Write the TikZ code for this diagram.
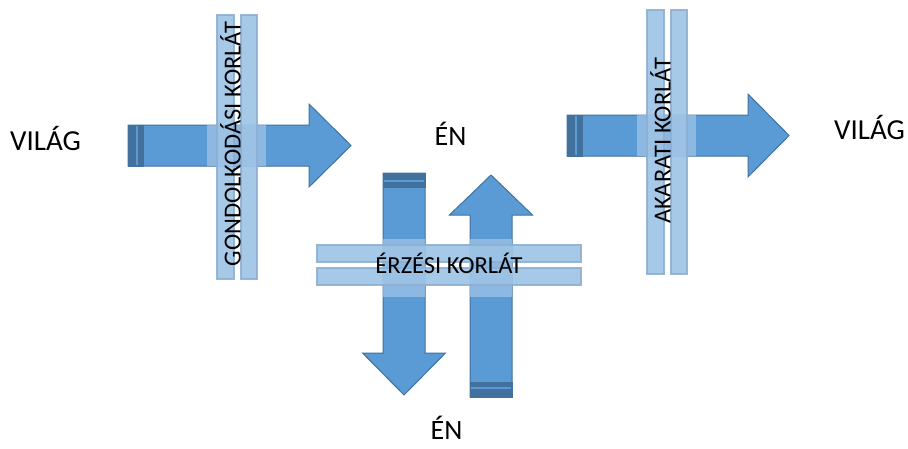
\documentclass[tikz,border=0pt]{standalone}
\usepackage{fontspec}
\setmainfont{Carlito}
\usepackage{tikz}
\definecolor{nyilkek}{HTML}{5B9BD5}
\definecolor{nyilvonal}{HTML}{41719C}
\definecolor{sotet}{HTML}{41719C}
\definecolor{sav}{HTML}{9DC3E6}
\definecolor{savvonal}{HTML}{8EAFD2}
\tikzset{
	felirat/.style={inner sep=0pt,text height=.63em,text depth=0pt},
	korlat/.style={felirat,font=\fontsize{24.5}{26}\selectfont},
	nyil/.style={fill=nyilkek,draw=nyilvonal,line width=1pt,line join=miter},
	farok/.style={fill=sotet,draw=nyilvonal,line width=1pt},
	folt/.style={fill=sav,fill opacity=.75},
	sorompo/.style={fill=sav,draw=savvonal,line width=1.5pt,opacity=.9}
}

\begin{document}
\begin{tikzpicture}[x=1pt,y=-1pt]
			\useasboundingbox (0,0) rectangle (908,448);
			% nyilak
			\filldraw[nyil] (128,125) -- (309,125) -- (309,104) -- (351,145.5) -- (309,187) -- (309,166) -- (128,166) -- cycle;
			\filldraw[nyil] (567,115) -- (748,115) -- (748,94) -- (789,135.5) -- (748,177) -- (748,156) -- (567,156) -- cycle;
			\filldraw[nyil] (383,173) -- (383,353) -- (362.5,353) -- (404,395) -- (445.5,353) -- (425,353) -- (425,173) -- cycle;
			\filldraw[nyil] (470,397) -- (470,215) -- (449.5,215) -- (491,175) -- (532.5,215) -- (512,215) -- (512,397) -- cycle;
			% sotet vegek
			\filldraw[farok] (128,125) rectangle (143,166);
			\filldraw[farok] (567,115) rectangle (582,156);
			\filldraw[farok] (383,173) rectangle (425,187);
			\filldraw[farok] (470,382) rectangle (512,397);
			\draw[nyilkek,line width=1.5pt] (137,126) -- (137,165);
			\draw[nyilkek,line width=1.5pt] (576,116) -- (576,155);
			\draw[nyilkek,line width=1.5pt] (384,181) -- (424,181);
			\draw[nyilkek,line width=1.5pt] (471,388) -- (511,388);
			% foltok
			\fill[folt] (207,125) rectangle (266,166);
			\fill[folt] (637,115) rectangle (696,156);
			\fill[folt] (383,239) rectangle (425,297);
			\fill[folt] (470,239) rectangle (512,297);
			% korlatok
			\filldraw[sorompo] (217,15) rectangle (234,279);
			\filldraw[sorompo] (241,15) rectangle (257,279);
			\filldraw[sorompo] (647,10) rectangle (664,274);
			\filldraw[sorompo] (671,10) rectangle (687,274);
			\filldraw[sorompo] (317,245) rectangle (581,262);
			\filldraw[sorompo] (317,268) rectangle (581,285);
			\node[korlat,rotate=90] (gondolkodas) at (237.5,144) {GONDOLKODÁSI KORLÁT};
			\node[korlat,rotate=90] (akarat) at (667.5,141) {AKARATI KORLÁT};
			\node[korlat] (erzes) at (449,270.5) {ÉRZÉSI KORLÁT};
			% feliratok
			\node[felirat,font=\fontsize{29}{31}\selectfont] (vilagbal) at (45.5,147) {VILÁG};
			\node[felirat,font=\fontsize{29}{31}\selectfont] (vilagjobb) at (869.5,136) {VILÁG};
			\node[felirat,font=\fontsize{28}{30}\selectfont] (en) at (450.5,142) {ÉN};
			\node[felirat,font=\fontsize{28}{30}\selectfont] (enlent) at (446.5,436.5) {ÉN};
		\end{tikzpicture}
\end{document}
